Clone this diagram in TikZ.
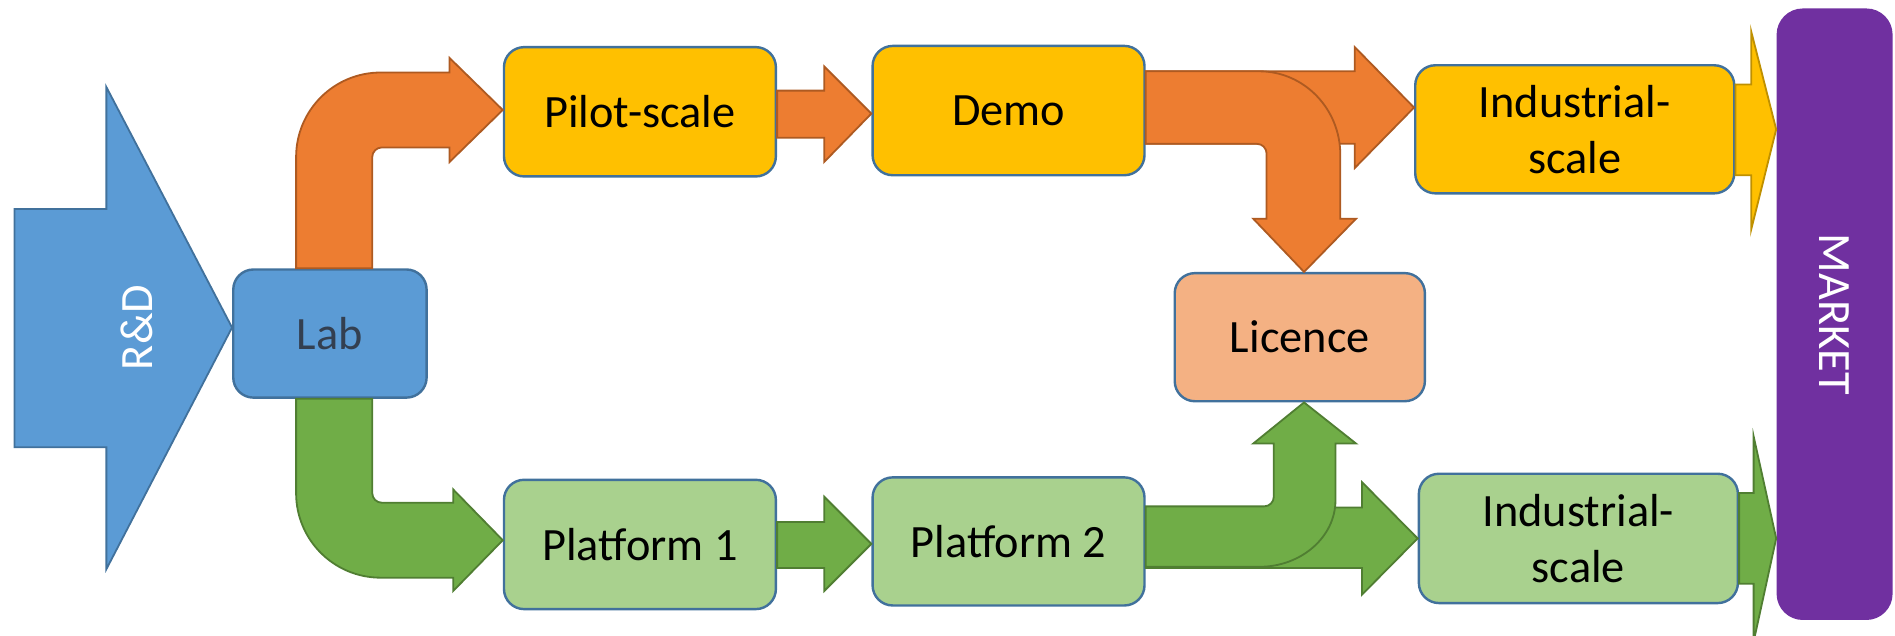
\documentclass[tikz,border=0pt]{standalone}
\usepackage{fontspec}
\setmainfont{Carlito}
\usepackage{tikz}

\definecolor{labblue}{HTML}{5B9BD5}
\definecolor{edgeblue}{HTML}{41719C}
\definecolor{labtext}{HTML}{333F50}
\definecolor{orfill}{HTML}{ED7D31}
\definecolor{ordraw}{HTML}{AE5A21}
\definecolor{gold}{HTML}{FFC000}
\definecolor{golddraw}{HTML}{BF9000}
\definecolor{grfill}{HTML}{70AD47}
\definecolor{grdraw}{HTML}{507E32}
\definecolor{lightgreen}{HTML}{A9D18E}
\definecolor{peach}{HTML}{F4B183}
\definecolor{mktpurple}{HTML}{7030A0}

\begin{document}
\begin{tikzpicture}[x=0.6pt, y=-0.6pt, font=\fontsize{23}{27.8}\selectfont,
		box/.style={draw=edgeblue, line width=1.2pt, rounded corners=10pt, inner sep=0pt, align=center, minimum width=135pt, minimum height=64.2pt},
		orarrow/.style={fill=orfill, draw=ordraw, line width=0.9pt},
		grarrow/.style={fill=grfill, draw=grdraw, line width=0.9pt},
		goldarrow/.style={fill=gold, draw=golddraw, line width=0.9pt}]
			\useasboundingbox (0,0) rectangle (1568,526);
			
			\node[box, fill=labblue, text=labtext, minimum width=96pt, minimum height=63.6pt] (lab) at (273,276) {Lab};
			\node[box, fill=gold] (pilot) at (529.5,92.5) {Pilot-scale};
			\node[box, fill=gold] (demo) at (834.5,91.5) {Demo};
			\node[box, fill=gold, minimum width=158.4pt, minimum height=63.6pt] (indus1) at (1303,107) {Industrial-\\scale};
			\node[box, fill=peach, minimum width=124.2pt, minimum height=63.6pt] (licence) at (1075.5,279) {Licence};
			\node[box, fill=lightgreen] (plat1) at (529.5,450.5) {Platform 1};
			\node[box, fill=lightgreen, minimum height=63.6pt] (plat2) at (834.5,448) {Platform 2};
			\node[box, fill=lightgreen, minimum width=158.4pt] (indus2) at (1306,445.5) {Industrial-\\scale};
			\node[fill=mktpurple, rounded corners=13pt, inner sep=0pt, minimum width=57.6pt, minimum height=303.6pt, text=white] (market) at (1518,260) {\rotatebox{-90}{MARKET}};
			
			% R&D
			\draw[fill=labblue, draw=edgeblue, line width=0.9pt] (12,173) -- (88,173) -- (88,72) -- (lab.west |- 0,271) -- (88,471) -- (88,370) -- (12,370) -- cycle;
			\node[white, rotate=90] (rd) at (113,271) {R\&D};
			
			% top row
			\draw[orarrow] (lab.north -| 245,0) -- (245,130) .. controls (245,91.3) and (276.3,60) .. (315,60) -- (372,60) -- (372,48) -- (pilot.west |- 0,91) -- (372,134) -- (372,122) -- (316,122) .. controls (311.6,122) and (308,125.6) .. (308,130) -- (lab.north -| 308,0) -- cycle;
			\draw[orarrow] (pilot.east |- 0,75) -- (682,75) -- (682,55) -- (demo.west |- 0,94) -- (682,134) -- (682,114) -- (pilot.east |- 0,114) -- cycle;
			\draw[orarrow] (demo.east |- 0,59) -- (1121,59) -- (1121,39) -- (indus1.west |- 0,89) -- (1121,139) -- (1121,119) -- (demo.east |- 0,119) -- cycle;
			\draw[orarrow] (demo.east |- 0,59) -- (1042,59) .. controls (1079,59) and (1109,90) .. (1109,128) -- (1109,181) -- (1122,181) -- (licence.north -| 1079,0) -- (1037,181) -- (1048,181) -- (1048,127) .. controls (1048,122.6) and (1044.4,119) .. (1040,119) -- (demo.east |- 0,119) -- cycle;
			\draw[goldarrow] (indus1.east |- 0,70) -- (1449,70) -- (1449,26) -- (market.west |- indus1.east) -- (1449,190) -- (1449,145) -- (indus1.east |- 0,145) -- cycle;
			
			% bottom row
			\draw[grarrow] (lab.south -| 245,0) -- (245,408) .. controls (245,446.7) and (276.3,478) .. (315,478) -- (375,478) -- (375,489) -- (plat1.west |- 0,447) -- (375,405) -- (375,416) -- (316,416) .. controls (311.6,416) and (308,412.4) .. (308,408) -- (lab.south -| 308,0) -- cycle;
			\draw[grarrow] (plat1.east |- 0,432) -- (682,432) -- (682,411) -- (plat2.west |- 0,450) -- (682,489) -- (682,470) -- (plat1.east |- 0,470) -- cycle;
			\draw[grarrow] (plat2.east |- 0,420) -- (1127,420) -- (1127,399) -- (indus2.west) -- (1127,492) -- (1127,470) -- (plat2.east |- 0,470) -- cycle;
			\draw[grarrow] (plat2.east |- 0,469) -- (1042,469) .. controls (1077,469) and (1105,444) .. (1105,414) -- (1105,367) -- (1122,367) -- (licence.south -| 1079,0) -- (1037,367) -- (1054,367) -- (1054,411) .. controls (1054,415.4) and (1050.4,419) .. (1046,419) -- (plat2.east |- 0,419) -- cycle;
			\draw[grarrow] (indus2.east |- 0,408) -- (1451,408) -- (1451,361) -- (market.west |- indus2.east) -- (1451,531) -- (1451,483) -- (indus2.east |- 0,483) -- cycle;
		\end{tikzpicture}
\end{document}
